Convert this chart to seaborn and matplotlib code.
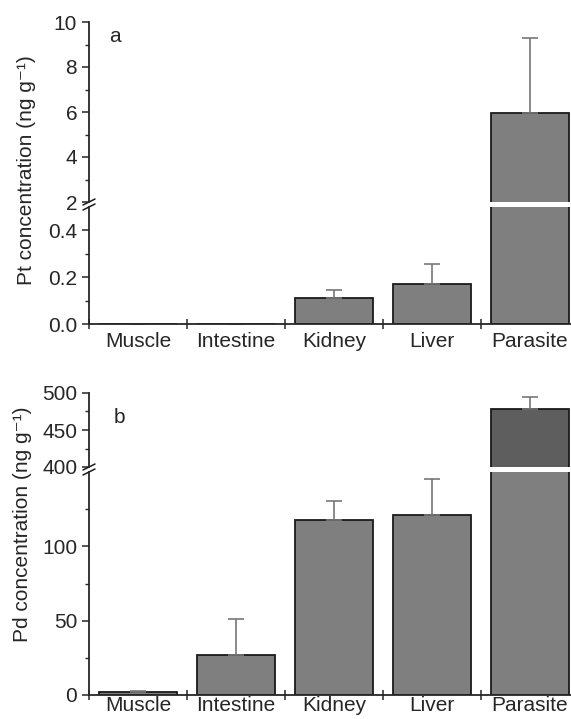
import numpy as np
import pandas as pd
import seaborn as sns
import matplotlib.pyplot as plt

tissues = ["Muscle", "Intestine", "Kidney", "Liver", "Parasite"]
pt_mean = [0.0, 0.0, 0.11, 0.17, 5.96]
pt_sd = [0.0, 0.0, 0.035, 0.085, 3.33]
pd_mean = [2.0, 27.0, 118.0, 121.0, 478.0]
pd_sd = [1.0, 24.0, 12.5, 24.0, 16.0]

sns.set_style("ticks")
plt.rcParams['font.family'] = ['Liberation Sans', 'DejaVu Sans']

W, H = 571, 719
fig = plt.figure(figsize=(W / 100, H / 100), dpi=100)

def add_ax(top, bot):
    # pixel rows -> figure fraction, category width 98 px
    return fig.add_axes([89 / W, 1 - bot / H, 490 / W, (bot - top) / H])

bar_col = "#7f7f7f"
edge_col = "#1a1a1a"
err_col = "#777777"
fs = 15

def draw(ax, mean, sd):
    df = pd.DataFrame({"tissue": tissues, "value": mean})
    sns.barplot(data=df, x="tissue", y="value", ax=ax, color=bar_col,
                saturation=1, edgecolor=edge_col, linewidth=1.3,
                errorbar=None, width=0.8)
    ax.errorbar(np.arange(len(tissues)), mean,
                yerr=[np.zeros(len(sd)), sd], fmt="none",
                ecolor=err_col, elinewidth=1.2, capsize=5.5, capthick=1.2)
    ax.set_xlim(-0.5, 4.5)
    ax.set_xlabel("")
    ax.set_ylabel("")
    for s in ["top", "right"]:
        ax.spines[s].set_visible(False)
    ax.spines["left"].set_linewidth(1.3)
    ax.spines["bottom"].set_linewidth(1.3)
    ax.tick_params(axis="y", labelsize=fs, width=1.1, length=5, direction="out")
    ax.tick_params(axis="y", which="minor", width=1.0, length=3)

def style_upper(ax):
    ax.spines["bottom"].set_visible(False)
    ax.set_xticks([])

def style_lower(ax, pad):
    ax.set_xticks(np.arange(len(tissues)))
    ax.set_xticklabels(tissues, fontsize=fs)
    ax.tick_params(axis="x", which="major", length=0, pad=pad)
    ax.set_xticks(np.arange(-0.5, 5, 1), minor=True)
    ax.tick_params(axis="x", which="minor", direction="inout", length=7, width=1.1)

def break_marks(ax_up, ax_lo):
    for ax, y0 in [(ax_up, 0), (ax_lo, 1)]:
        trans = ax.transAxes
        bb = ax.get_position()
        dx = 6 / (bb.width * W)
        dy = 3 / (bb.height * H)
        ax.plot([-dx, dx], [y0 - dy, y0 + dy], transform=trans, color=edge_col,
                lw=1.1, clip_on=False)

# panel a
a_up = add_ax(22, 202)
a_lo = add_ax(207, 324)
for ax in (a_up, a_lo):
    draw(ax, pt_mean, pt_sd)
a_up.set_ylim(2, 10)
a_up.set_yticks([2, 4, 6, 8, 10])
a_up.set_yticks(np.arange(3, 10, 2), minor=True)
a_lo.set_ylim(0, 0.5)
a_lo.set_yticks([0.0, 0.2, 0.4])
a_lo.set_yticklabels(["0.0", "0.2", "0.4"])
a_lo.set_yticks([0.1, 0.3], minor=True)
style_upper(a_up)
style_lower(a_lo, 6)
break_marks(a_up, a_lo)

# panel b
b_up = add_ax(393, 467)
b_lo = add_ax(472, 695)
for ax in (b_up, b_lo):
    draw(ax, pd_mean, pd_sd)
b_up.patches[4].set_facecolor("#5e5e5e")
b_up.set_ylim(400, 500)
b_up.set_yticks([400, 450, 500])
b_up.set_yticks([425, 475], minor=True)
b_lo.set_ylim(0, 150)
b_lo.set_yticks([0, 50, 100])
b_lo.set_yticks([25, 75, 125], minor=True)
style_upper(b_up)
style_lower(b_lo, 1)
break_marks(b_up, b_lo)

fig.text(115 / W, 1 - 37 / H, "a", fontsize=fs, va="center", ha="center")
fig.text(119 / W, 1 - 417 / H, "b", fontsize=fs, va="center", ha="center")
fig.text(27 / W, 1 - 170 / H, "Pt concentration (ng g\u207b\u00b9)", fontsize=fs,
         rotation=90, va="center", ha="center")
fig.text(23 / W, 1 - 524 / H, "Pd concentration (ng g\u207b\u00b9)", fontsize=fs,
         rotation=90, va="center", ha="center")

fig.savefig("out.png", dpi=100)
